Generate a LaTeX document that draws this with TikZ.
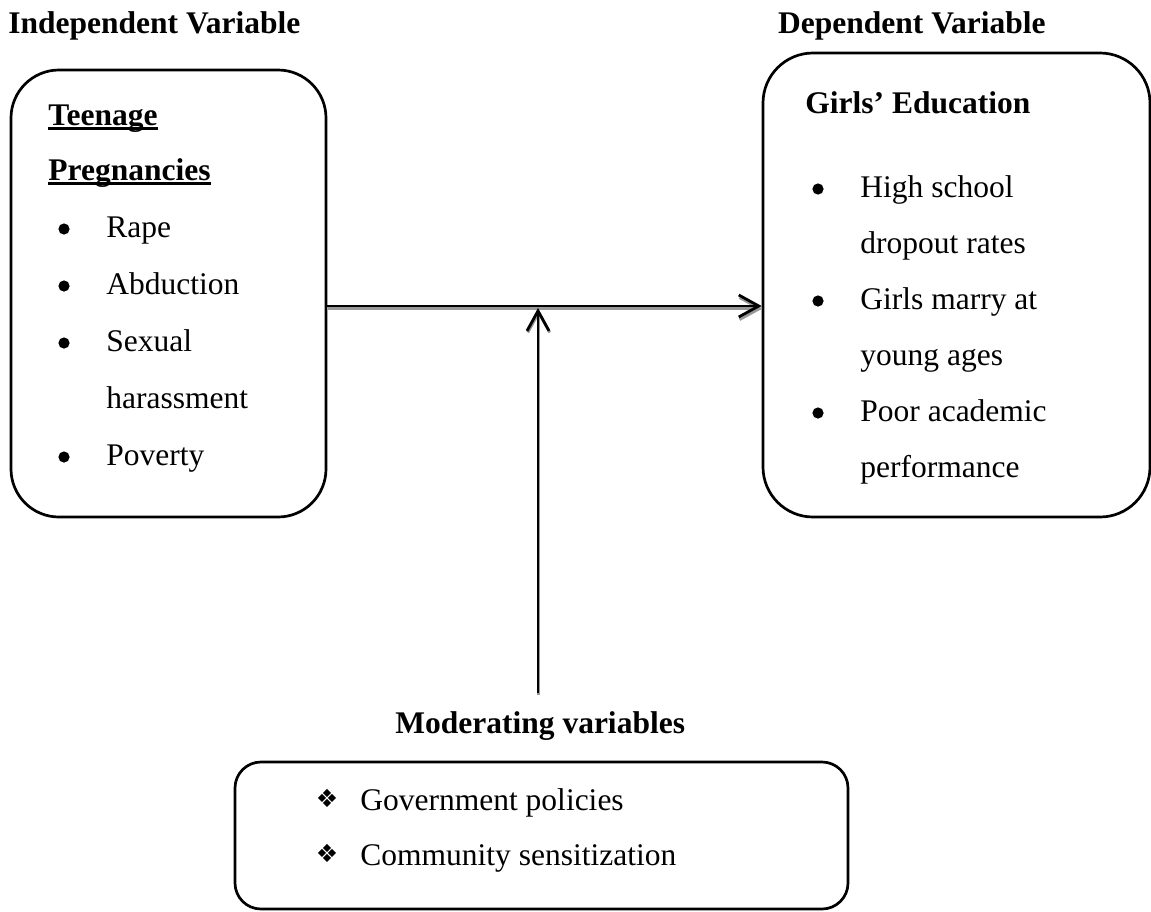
\documentclass[tikz,border=0pt]{standalone}
\usepackage{fontspec}
\setmainfont{Liberation Serif}
\newfontfamily\symfont{DejaVu Sans}
\usetikzlibrary{arrows.meta}
\begin{document}
\begin{tikzpicture}[x=0.5pt,y=-0.5pt,
  every node/.style={inner sep=0pt, font=\fontsize{15.75}{18}\selectfont},
  txt/.style={anchor=base west},
  head/.style={anchor=base west, font=\fontsize{15.75}{18}\selectfont\bfseries},
  rbox/.style={draw, line width=1.35pt, rounded corners=#1},
  bul/.style={circle, fill=black, minimum size=5.6pt},
  dia/.style={font=\fontsize{12.5}{14}\selectfont\symfont},
  arr/.style={line width=1.4pt, -{Straight Barb[length=10pt,width=11pt,line width=1.4pt]}},
  shad/.style={arr, draw=black!40}
]
\useasboundingbox (0,0) rectangle (1151,911);

% boxes
\node[rbox=24pt, minimum width=157.5pt, minimum height=223.5pt] (L) at (168.5,293.5) {};
\node[rbox=25pt, minimum width=193.5pt, minimum height=232pt] (R) at (956.5,285) {};
\node[rbox=13pt, minimum width=306.5pt, minimum height=73.5pt] (M) at (541.5,835.5) {};

% headings
\node[head] (ih) at (8,33) {Independent Variable};
\node[head, anchor=base east] (dh) at (1046,33) {Dependent Variable};
\node[head] (mh) at (395,733) {Moderating variables};

% left box text
\node[head] (t1) at (48,125) {Teenage};
\node[head] (t2) at (48,180) {Pregnancies};
\draw[line width=1.3pt] ([yshift=-1.8pt]t1.base west) -- ([yshift=-1.8pt]t1.base east);
\draw[line width=1.3pt] ([yshift=-1.8pt]t2.base west) -- ([yshift=-1.8pt]t2.base east);
\node[bul] (lb1) at (64,229) {};
\node[txt] (l1) at (106,237) {Rape};
\node[bul] (lb2) at (64,286) {};
\node[txt] (l2) at (106,294) {Abduction};
\node[bul] (lb3) at (64,343) {};
\node[txt] (l3) at (106,351) {Sexual};
\node[txt] (l4) at (106,408) {harassment};
\node[bul] (lb5) at (64,457) {};
\node[txt] (l5) at (106,465) {Poverty};

% right box text
\node[head] (g0) at (805,113) {Girls’ Education};
\node[bul] (rb1) at (818,189) {};
\node[txt] (r1) at (860,197) {High school};
\node[txt] (r2) at (860,253) {dropout rates};
\node[bul] (rb3) at (818,301) {};
\node[txt] (r3) at (860,309) {Girls marry at};
\node[txt] (r4) at (860,365) {young ages};
\node[bul] (rb5) at (818,413) {};
\node[txt] (r5) at (860,421) {Poor academic};
\node[txt] (r6) at (860,477) {performance};

% moderating box text
\node[dia] (d1) at (327,798) {❖};
\node[txt] (m1) at (360,810) {Government policies};
\node[dia] (d2) at (327,853) {❖};
\node[txt] (m2) at (360,865) {Community sensitization};

% connectors
\coordinate (hy) at (0,306);
\coordinate (vb) at (538,693);
\coordinate (vt) at (538,308);
\draw[shad] ([xshift=0.4pt,yshift=-1.3pt]L.east |- hy) -- ([xshift=0.4pt,yshift=-1.3pt]R.west |- hy);
\draw[shad] ([xshift=0.4pt,yshift=-0.8pt]vb) -- ([xshift=0.4pt,yshift=-0.8pt]vt);
\draw[arr] (L.east |- hy) -- (R.west |- hy);
\draw[arr] (vb) -- (vt);
\end{tikzpicture}
\end{document}
